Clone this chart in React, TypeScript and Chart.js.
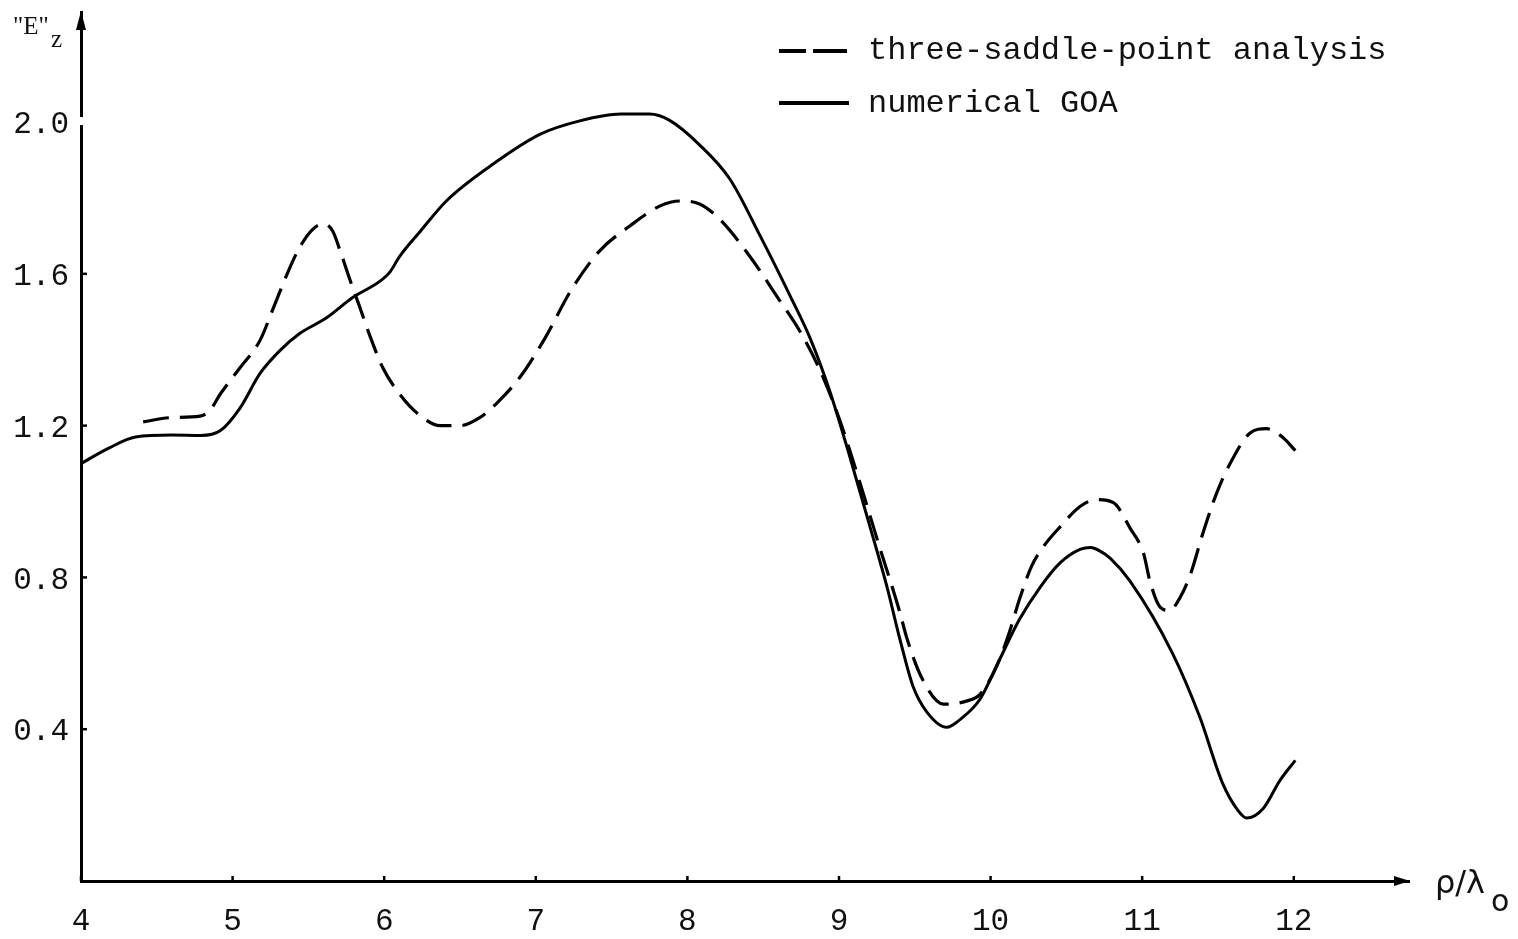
import React, { useEffect, useRef } from "react";
import { Chart, registerables } from "chart.js";

Chart.register(...registerables);

// ---- data ----
const goaX = [4.0, 4.18, 4.36, 4.6, 4.79, 4.92, 5.05, 5.18, 5.31, 5.44, 5.62, 5.79, 5.97, 6.04, 6.1, 6.24, 6.41, 6.7, 7.03, 7.29, 7.56, 7.75, 7.88, 8.08, 8.28, 8.48, 8.68, 8.81, 8.94, 9.07, 9.2, 9.32, 9.4, 9.49, 9.58, 9.71, 9.8, 9.93, 10.06, 10.19, 10.33, 10.46, 10.59, 10.66, 10.72, 10.79, 10.92, 11.2, 11.38, 11.53, 11.63, 11.69, 11.8, 11.91, 12.01];
const goaY = [1.1, 1.14, 1.17, 1.175, 1.174, 1.187, 1.247, 1.337, 1.397, 1.442, 1.484, 1.537, 1.58, 1.606, 1.645, 1.713, 1.792, 1.884, 1.968, 2.003, 2.021, 2.021, 2.005, 1.94, 1.85, 1.7, 1.54, 1.43, 1.29, 1.12, 0.94, 0.77, 0.64, 0.511, 0.445, 0.405, 0.426, 0.479, 0.584, 0.689, 0.776, 0.839, 0.874, 0.879, 0.87, 0.85, 0.79, 0.6, 0.432, 0.258, 0.187, 0.166, 0.192, 0.266, 0.318];

const tspX = [4.41, 4.59, 4.785, 4.85, 4.92, 5.05, 5.18, 5.27, 5.36, 5.44, 5.53, 5.6, 5.66, 5.71, 5.77, 5.84, 5.91, 5.99, 6.1, 6.22, 6.37, 6.5, 6.63, 6.74, 6.9, 7.06, 7.23, 7.42, 7.62, 7.82, 7.95, 8.08, 8.21, 8.41, 8.61, 8.74, 8.87, 9.0, 9.13, 9.26, 9.4, 9.45, 9.55, 9.69, 9.84, 9.93, 10.04, 10.13, 10.19, 10.27, 10.35, 10.46, 10.59, 10.7, 10.81, 10.92, 11.01, 11.05, 11.12, 11.18, 11.25, 11.32, 11.4, 11.49, 11.58, 11.71, 11.82, 11.93, 12.01];
const tspY = [1.21, 1.221, 1.225, 1.24, 1.284, 1.353, 1.424, 1.511, 1.6, 1.668, 1.718, 1.732, 1.713, 1.66, 1.589, 1.511, 1.432, 1.353, 1.284, 1.232, 1.2, 1.2, 1.221, 1.258, 1.33, 1.43, 1.555, 1.66, 1.726, 1.779, 1.792, 1.784, 1.745, 1.647, 1.529, 1.45, 1.35, 1.22, 1.06, 0.89, 0.71, 0.637, 0.532, 0.466, 0.474, 0.492, 0.566, 0.663, 0.742, 0.829, 0.882, 0.934, 0.987, 1.005, 0.997, 0.93, 0.862, 0.792, 0.721, 0.713, 0.747, 0.81, 0.916, 1.021, 1.1, 1.18, 1.192, 1.168, 1.134];

const xTickValues = [4, 5, 6, 7, 8, 9, 10, 11, 12];
const yTickValues = [0.4, 0.8, 1.2, 1.6, 2.0];
const seriesLabels = ["three-saddle-point analysis", "numerical GOA"];
const xAxisTitle = ["ρ/λ", "o"];
const yAxisTitle = ['"E"', "z"];

const X_MIN = 4;
const X_MAX = 12.76;
const Y_MIN = 0;
const Y_MAX = 2.29;

const W = 1518;
const H = 939;
const MONO = '"Liberation Mono", "DejaVu Sans Mono", monospace';

const overlay = {
  id: "overlay",
  afterDraw(chart: any) {
    const { ctx, chartArea, scales } = chart;
    const x = scales.x;
    const y = scales.y;
    const left = chartArea.left;
    const bottom = chartArea.bottom;
    const top = chartArea.top;
    const right = chartArea.right;
    ctx.save();

    // small gap in the y axis at 2.0
    ctx.fillStyle = "#fff";
    const g = y.getPixelForValue(2.0);
    ctx.fillRect(left - 4, g - 5, 8, 8);

    ctx.fillStyle = "#000";
    ctx.strokeStyle = "#000";
    // y arrow
    ctx.beginPath();
    ctx.moveTo(left, top - 1);
    ctx.lineTo(left - 5, top + 18);
    ctx.lineTo(left + 5, top + 18);
    ctx.closePath();
    ctx.fill();
    // x arrow
    ctx.beginPath();
    ctx.moveTo(right + 1, bottom);
    ctx.lineTo(right - 15, bottom - 5);
    ctx.lineTo(right - 15, bottom + 5);
    ctx.closePath();
    ctx.fill();

    // tick marks (inside)
    ctx.lineWidth = 2.5;
    xTickValues.forEach((v) => {
      const px = x.getPixelForValue(v);
      ctx.beginPath();
      ctx.moveTo(px, bottom);
      ctx.lineTo(px, bottom - 5);
      ctx.stroke();
    });
    yTickValues.forEach((v) => {
      if (v === 2.0) return;
      const py = y.getPixelForValue(v);
      ctx.beginPath();
      ctx.moveTo(left, py);
      ctx.lineTo(left + 6, py);
      ctx.stroke();
    });

    // legend
    ctx.lineWidth = 4;
    ctx.beginPath();
    ctx.moveTo(779, 51);
    ctx.lineTo(806, 51);
    ctx.moveTo(813, 51);
    ctx.lineTo(847, 51);
    ctx.stroke();
    ctx.beginPath();
    ctx.moveTo(779, 103);
    ctx.lineTo(849, 103);
    ctx.stroke();
    ctx.fillStyle = "#111";
    ctx.font = `32px ${MONO}`;
    ctx.textBaseline = "alphabetic";
    ctx.textAlign = "left";
    ctx.fillText(seriesLabels[0], 868, 59);
    ctx.fillText(seriesLabels[1], 868, 112);

    // axis titles
    ctx.font = '25px "Liberation Serif", "DejaVu Serif", serif';
    ctx.fillText(yAxisTitle[0], 13, 34);
    ctx.fillText(yAxisTitle[1], 51, 47);
    ctx.font = '32px "DejaVu Sans", sans-serif';
    ctx.fillText(xAxisTitle[0], 1435, 893);
    ctx.font = '30px "DejaVu Sans", sans-serif';
    ctx.fillText(xAxisTitle[1], 1491, 911);

    ctx.restore();
  },
};

export default function App() {
  const ref = useRef<HTMLCanvasElement | null>(null);

  useEffect(() => {
    if (!ref.current) return;
    const goa = goaX.map((v, i) => ({ x: v, y: goaY[i] }));
    const tsp = tspX.map((v, i) => ({ x: v, y: tspY[i] }));
    const chart = new Chart(ref.current, {
      type: "line",
      data: {
        datasets: [
          {
            label: seriesLabels[0],
            data: tsp,
            borderColor: "#000",
            borderWidth: 3.2,
            borderDash: [26, 11],
            pointRadius: 0,
            fill: false,
            cubicInterpolationMode: "monotone",
          },
          {
            label: seriesLabels[1],
            data: goa,
            borderColor: "#000",
            borderWidth: 3,
            pointRadius: 0,
            fill: false,
            cubicInterpolationMode: "monotone",
          },
        ],
      },
      options: {
        responsive: false,
        animation: false,
        devicePixelRatio: 1,
        layout: { padding: { left: 0, top: 12, right: W - 1409, bottom: 0 } },
        plugins: {
          legend: { display: false },
          tooltip: { enabled: false },
        },
        scales: {
          x: {
            type: "linear",
            min: X_MIN,
            max: X_MAX,
            grid: { display: false, drawTicks: false },
            border: { display: true, color: "#000", width: 3 },
            afterBuildTicks: (s: any) => {
              s.ticks = xTickValues.map((v) => ({ value: v }));
            },
            afterFit: (s: any) => {
              s.height = H - 881;
              s.paddingLeft = 0;
              s.paddingRight = 0;
            },
            ticks: {
              color: "#111",
              font: { family: MONO, size: 31 },
              padding: 22,
              maxRotation: 0,
              autoSkip: false,
              callback: (v: any) => String(v),
            },
          },
          y: {
            type: "linear",
            min: Y_MIN,
            max: Y_MAX,
            grid: { display: false, drawTicks: false },
            border: { display: true, color: "#000", width: 3 },
            afterBuildTicks: (s: any) => {
              s.ticks = yTickValues.map((v) => ({ value: v }));
            },
            afterFit: (s: any) => {
              s.width = 81;
              s.paddingTop = 0;
              s.paddingBottom = 0;
            },
            ticks: {
              color: "#111",
              font: { family: MONO, size: 31 },
              padding: 12,
              labelOffset: 3,
              autoSkip: false,
              callback: (v: any) => Number(v).toFixed(1),
            },
          },
        },
      },
      plugins: [overlay],
    });
    return () => chart.destroy();
  }, []);

  return (
    <div style={{ position: "absolute", left: 0, top: 0, width: W, height: H, background: "#fff" }}>
      <canvas ref={ref} width={W} height={H} style={{ display: "block", width: W, height: H }} />
    </div>
  );
}
